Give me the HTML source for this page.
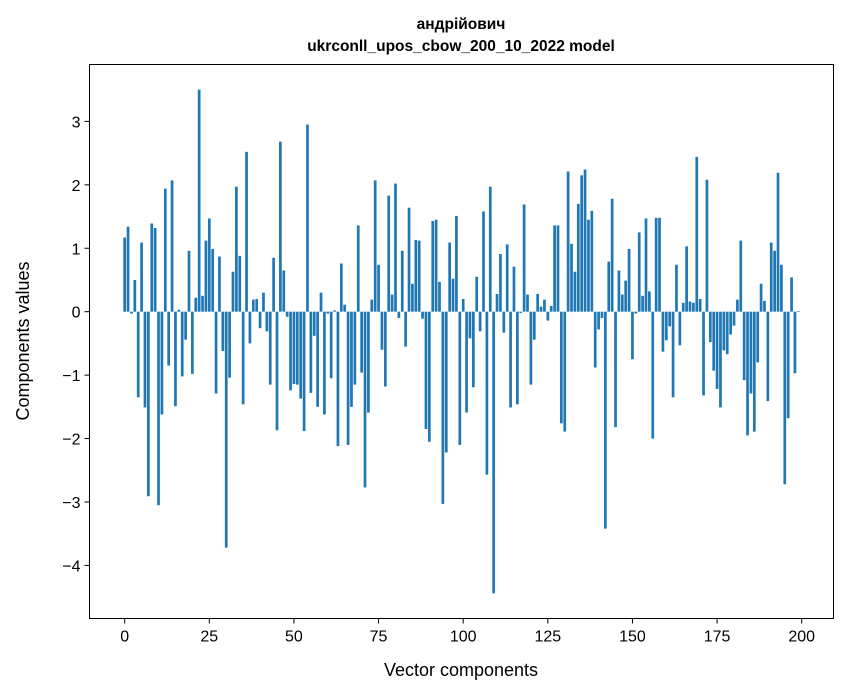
<!DOCTYPE html>
<html><head><meta charset="utf-8">
<style>
body{margin:0;background:#fff;}
svg{display:block;font-family:"Liberation Sans","DejaVu Sans",sans-serif;}
</style></head>
<body>
<svg id="chart" width="847" height="696" viewBox="0 0 847 696">
<rect width="847" height="696" fill="#fff"/>
<text x="461" y="29" text-anchor="middle" font-size="15.5" font-weight="bold">андрійович</text>
<text x="461" y="51" text-anchor="middle" font-size="15.5" font-weight="bold">ukrconll_upos_cbow_200_10_2022 model</text>
<g id="bars"></g>
<g id="xticks"></g>
<g id="yticks"></g>
<rect x="89.5" y="64.5" width="744" height="554" fill="none" stroke="#000" stroke-width="1"/>
<text x="461" y="676" text-anchor="middle" font-size="18">Vector components</text>
<text transform="translate(29,341) rotate(-90)" text-anchor="middle" font-size="18">Components values</text>
</svg>
<script>
const values = [1.17,1.34,-0.03,0.5,-1.35,1.09,-1.51,-2.91,1.39,1.32,
-3.05,-1.62,1.94,-0.85,2.07,-1.49,0.03,-1.02,-0.44,0.96,
-0.98,0.22,3.5,0.25,1.12,1.47,0.99,-1.29,0.87,-0.62,
-3.72,-1.04,0.63,1.97,0.88,-1.46,2.52,-0.5,0.19,0.2,
-0.26,0.3,-0.31,-1.15,0.85,-1.87,2.68,0.65,-0.08,-1.24,
-1.14,-1.15,-1.37,-1.88,2.95,-1.28,-0.38,-1.5,0.3,-1.62,
-0.03,-1.05,0.02,-2.12,0.76,0.11,-2.1,-1.5,-1.15,1.36,
-0.96,-2.77,-1.59,0.19,2.07,0.74,-0.6,-1.18,1.83,0.27,
2.02,-0.1,0.96,-0.55,1.64,0.44,1.13,1.12,-0.11,-1.85,
-2.05,1.43,1.45,0.47,-3.03,-2.22,1.09,0.52,1.51,-2.1,
0.2,-1.59,-0.42,-1.19,0.55,-0.31,1.58,-2.57,1.97,-4.44,
0.28,0.91,-0.33,1.06,-1.51,0.71,-1.46,-0.02,1.69,0.27,
-1.15,-0.44,0.28,0.08,0.19,-0.14,0.09,1.36,1.36,-1.76,
-1.89,2.21,1.07,0.63,1.7,2.15,2.24,1.45,1.59,-0.88,
-0.28,-0.1,-3.42,0.79,1.78,-1.82,0.65,0.27,0.49,0.99,
-0.75,-0.03,1.25,0.25,1.47,0.32,-2.0,1.48,1.48,-0.63,
-0.45,-0.23,-1.35,0.74,-0.53,0.14,1.03,0.16,0.14,2.44,
0.2,-1.32,2.08,-0.48,-0.93,-1.22,-1.51,-0.61,-0.67,-0.36,
-0.22,0.19,1.12,-1.08,-1.95,-1.29,-1.89,-0.8,0.44,0.17,
-1.41,1.09,0.96,2.19,0.74,-2.72,-1.68,0.54,-0.97,0.01];
const xTickValues = [0,25,50,75,100,125,150,175,200];
const yTickValues = [3,2,1,0,-1,-2,-3,-4];

const NS = "http://www.w3.org/2000/svg";
const plotL = 89.5, plotR = 833.5, plotT = 64.5, plotB = 618.5;
const n = values.length;
const xMin = -0.4 - 0.05*(n-0.2), xMax = (n-1)+0.4 + 0.05*(n-0.2);
const dMax = Math.max(...values, 0), dMin = Math.min(...values, 0);
const yMax = dMax + 0.05*(dMax-dMin), yMin = dMin - 0.05*(dMax-dMin);
function xs(v){ return plotL + (v - xMin)/(xMax - xMin)*(plotR - plotL); }
function ys(v){ return plotB - (v - yMin)/(yMax - yMin)*(plotB - plotT); }

const barsG = document.getElementById('bars');
const bw = xs(0.8) - xs(0);
values.forEach((v, i) => {
  const r = document.createElementNS(NS, 'rect');
  const y0 = ys(0), y1 = ys(v);
  r.setAttribute('x', xs(i) - bw/2);
  r.setAttribute('y', Math.min(y0, y1));
  r.setAttribute('width', bw);
  r.setAttribute('height', Math.abs(y1 - y0));
  r.setAttribute('fill', '#1f77b4');
  
  
  barsG.appendChild(r);
});

const xg = document.getElementById('xticks');
xTickValues.forEach(t => {
  const x = xs(t);
  const l = document.createElementNS(NS, 'line');
  l.setAttribute('x1', x); l.setAttribute('x2', x);
  l.setAttribute('y1', plotB); l.setAttribute('y2', plotB + 5);
  l.setAttribute('stroke', '#000');
  
  
  xg.appendChild(l);
  const tx = document.createElementNS(NS, 'text');
  tx.setAttribute('x', x); tx.setAttribute('y', plotB + 23);
  tx.setAttribute('text-anchor', 'middle');
  tx.setAttribute('font-size', '16');
  tx.textContent = String(t);
  
  
  xg.appendChild(tx);
});

const yg = document.getElementById('yticks');
yTickValues.forEach(t => {
  const y = ys(t);
  const l = document.createElementNS(NS, 'line');
  l.setAttribute('x1', plotL - 5); l.setAttribute('x2', plotL);
  l.setAttribute('y1', y); l.setAttribute('y2', y);
  l.setAttribute('stroke', '#000');
  
  
  yg.appendChild(l);
  const tx = document.createElementNS(NS, 'text');
  tx.setAttribute('x', plotL - 9); tx.setAttribute('y', y + 6);
  tx.setAttribute('text-anchor', 'end');
  tx.setAttribute('font-size', '16');
  tx.textContent = t < 0 ? '\u2212' + Math.abs(t) : String(t);
  
  
  yg.appendChild(tx);
});
</script>
</body></html>
